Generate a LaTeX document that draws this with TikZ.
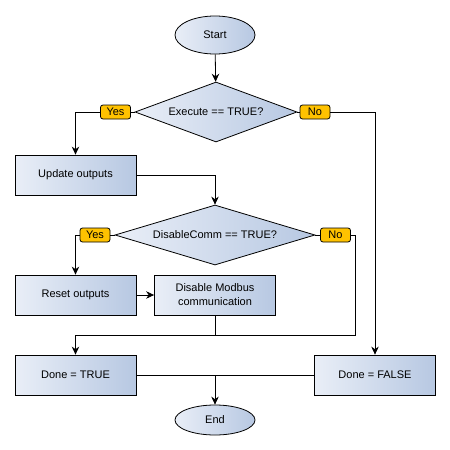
\documentclass[tikz,border=0pt]{standalone}
\usepackage{fontspec}
\setmainfont{Liberation Sans}
\usetikzlibrary{shapes.geometric,arrows.meta}
\definecolor{boxlight}{RGB}{233,238,247}
\definecolor{boxdark}{RGB}{183,200,226}
\definecolor{tagyellow}{RGB}{255,194,0}
\begin{document}
\begin{tikzpicture}[x=1pt,y=-1pt,
    font=\fontsize{11}{14}\selectfont,
    line width=0.8pt,
    flow/.style={-{Stealth[length=8pt,width=7.5pt]}},
    shade box/.style={draw,left color=boxlight,right color=boxdark,inner sep=0pt}]

      \useasboundingbox (0,0) rectangle (450,450);

      \begin{scope}[every node/.style={shade box,ellipse,minimum width=80,minimum height=30}]
        \node (start) at (215,35)  [minimum height=38] {Start};
        \node (end)   at (215,420) {End};
      \end{scope}

      \begin{scope}[every node/.style={shade box,diamond,minimum height=60}]
        \node (exec) at (216,112) [minimum width=162,aspect=2.7] {Execute == TRUE?};
        \node (dis)  at (215,235) [minimum width=200,aspect=3.3] {DisableComm == TRUE?};
      \end{scope}

      \begin{scope}[every node/.style={shade box,rectangle,minimum width=121,minimum height=40,align=center}]
        \node (upd)   at (75.5,175)  {Update outputs};
        \node (reset) at (75.5,295)  {Reset outputs};
        \node (modb)  at (215,295)   {Disable Modbus\\communication};
        \node (dtrue) at (75.5,375)  {Done = TRUE};
        \node (dfals) at (375,375)   {Done = FALSE};
      \end{scope}

      \begin{scope}[every node/.style={draw,fill=tagyellow,rounded corners=2.5pt,
                    inner sep=0pt,minimum width=30,minimum height=14}]
        \node (yes1) at (115.5,112) {Yes};
        \node (no1)  at (315,112)   {No};
        \node (yes2) at (95,235)    {Yes};
        \node (no2)  at (335.5,235) {No};
      \end{scope}

      \coordinate (j1) at (355,335);
      \coordinate (j2) at (215,335);
      \coordinate (j3) at (215,375);

      \path (start) edge[flow] (exec);
      \path (exec.west) edge (yes1.east);
      \path (exec.east) edge (no1.west);
      \draw[flow] (yes1.west) -| (upd.north);
      \draw[flow] (no1.east) -| (dfals.north);
      \draw[flow] (upd.east) -| (dis.north);
      \path (dis.west) edge (yes2.east);
      \path (dis.east) edge (no2.west);
      \draw[flow] (yes2.west) -| (reset.north);
      \path (reset) edge[flow] (modb);
      \path (modb.south) edge (j2);
      \draw[flow] (no2.east) -| (j1) -| (dtrue.north);
      \path (dtrue.east) edge (dfals.west);
      \path (j3) edge[flow] (end);

    \end{tikzpicture}
\end{document}
